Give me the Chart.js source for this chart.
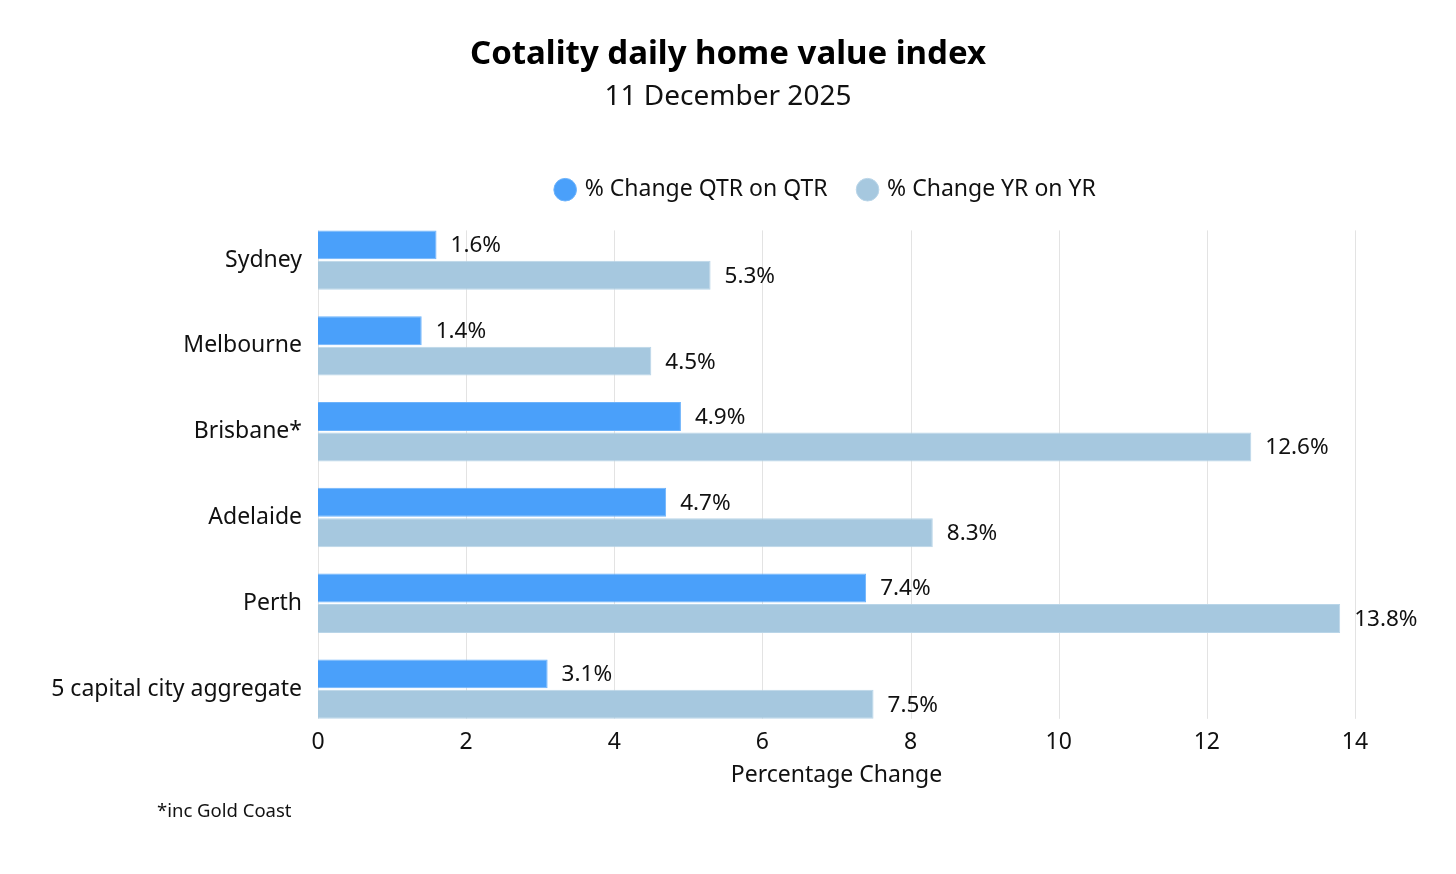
<!DOCTYPE html>
<html>
<head>
<meta charset="utf-8">
<script src="https://cdn.jsdelivr.net/npm/chart.js@4.4.1/dist/chart.umd.min.js"></script>
<style>
  html, body { margin: 0; padding: 0; background: #fff; }
  #wrap { position: relative; width: 1456px; height: 874px; }
  #note { position: absolute; left: 157px; top: 797px; font: 18.5px "Noto Sans", sans-serif; color: #111; }
</style>
</head>
<body>
<div id="wrap">
  <canvas id="chart" width="1456" height="874"></canvas>
  <div id="note">*inc Gold Coast</div>
</div>
<script>
// data
const cities = ['Sydney', 'Melbourne', 'Brisbane*', 'Adelaide', 'Perth', '5 capital city aggregate'];
const qtrChange = [1.6, 1.4, 4.9, 4.7, 7.4, 3.1];
const yrChange = [5.3, 4.5, 12.6, 8.3, 13.8, 7.5];
const xTicks = [0, 2, 4, 6, 8, 10, 12, 14];

const FONT = '"Noto Sans", sans-serif';

// vertical grid lines, only over the span of the bars
const gridLines = {
  id: 'gridLines',
  beforeDatasetsDraw(chart) {
    const ctx = chart.ctx;
    const x = chart.scales.x;
    const first = chart.getDatasetMeta(0).data[0];
    const last = chart.getDatasetMeta(1).data[cities.length - 1];
    const top = first.y - first.height / 2;
    const bottom = last.y + last.height / 2;
    ctx.save();
    ctx.strokeStyle = '#e3e3e3';
    ctx.lineWidth = 1;
    xTicks.forEach(v => {
      const px = Math.round(x.getPixelForValue(v)) + 0.5;
      ctx.beginPath();
      ctx.moveTo(px, top);
      ctx.lineTo(px, bottom);
      ctx.stroke();
    });
    ctx.restore();
  }
};

// value labels at the end of every bar
const valueLabels = {
  id: 'valueLabels',
  afterDatasetsDraw(chart) {
    const ctx = chart.ctx;
    ctx.save();
    ctx.font = '22.5px ' + FONT;
    ctx.fillStyle = '#111';
    ctx.textBaseline = 'middle';
    ctx.textAlign = 'left';
    chart.data.datasets.forEach((ds, i) => {
      chart.getDatasetMeta(i).data.forEach((bar, j) => {
        ctx.fillText(ds.data[j].toFixed(1) + '%', bar.x + 14, bar.y + 1);
      });
    });
    ctx.restore();
  }
};

// titles centred on the page, legend centred on the plot and lifted a bit
const recentre = {
  id: 'recentre',
  afterLayout(chart) {
    chart.boxes.forEach(b => {
      if (b.options && typeof b.options.text === 'string') {
        b.left = 0;
        b.right = chart.width;
      }
    });
    if (chart.legend) {
      chart.legend.left = chart.chartArea.left - 10;
      chart.legend.right = chart.chartArea.right - 10;
      chart.legend.top -= 6;
      chart.legend.bottom -= 6;
    }
  }
};

new Chart(document.getElementById('chart'), {
  type: 'bar',
  data: {
    labels: cities,
    datasets: [
      {
        label: '% Change QTR on QTR',
        data: qtrChange,
        backgroundColor: '#4aa0fa',
        borderColor: '#6db3fb',
        borderWidth: 1,
        categoryPercentage: 0.71,
        barPercentage: 0.95
      },
      {
        label: '% Change YR on YR',
        data: yrChange,
        backgroundColor: '#a6c8df',
        borderColor: '#b9d5e8',
        borderWidth: 1,
        categoryPercentage: 0.71,
        barPercentage: 0.95
      }
    ]
  },
  options: {
    indexAxis: 'y',
    responsive: false,
    animation: false,
    layout: { padding: { left: 0, right: 101, top: 0, bottom: 85 } },
    plugins: {
      title: {
        display: true,
        text: 'Cotality daily home value index',
        color: '#000',
        font: { family: FONT, size: 33, weight: 'bold', lineHeight: 1.2 },
        padding: { top: 35, bottom: 6 }
      },
      subtitle: {
        display: true,
        text: '11 December 2025',
        color: '#111',
        font: { family: FONT, size: 28, lineHeight: 1.2 },
        padding: { top: 0, bottom: 38 }
      },
      legend: {
        display: true,
        labels: {
          usePointStyle: true,
          pointStyle: 'circle',
          boxWidth: 16,
          boxHeight: 16,
          padding: 32,
          color: '#111',
          font: { family: FONT, size: 23 }
        }
      },
      tooltip: { enabled: false }
    },
    scales: {
      x: {
        min: 0,
        max: 14,
        ticks: {
          stepSize: 2,
          color: '#111',
          padding: -9,
          font: { family: FONT, size: 23, lineHeight: 1 }
        },
        grid: { display: false },
        border: { display: false },
        title: {
          display: true,
          text: 'Percentage Change',
          color: '#111',
          font: { family: FONT, size: 23 },
          padding: { top: 10, bottom: 0 }
        },
        afterFit(scale) { scale.height = 57; }
      },
      y: {
        ticks: {
          color: '#111',
          padding: 8,
          font: { family: FONT, size: 23 }
        },
        grid: { display: false },
        border: { display: false },
        afterFit(scale) { scale.width = 318; }
      }
    }
  },
  plugins: [gridLines, valueLabels, recentre]
});
</script>
</body>
</html>
